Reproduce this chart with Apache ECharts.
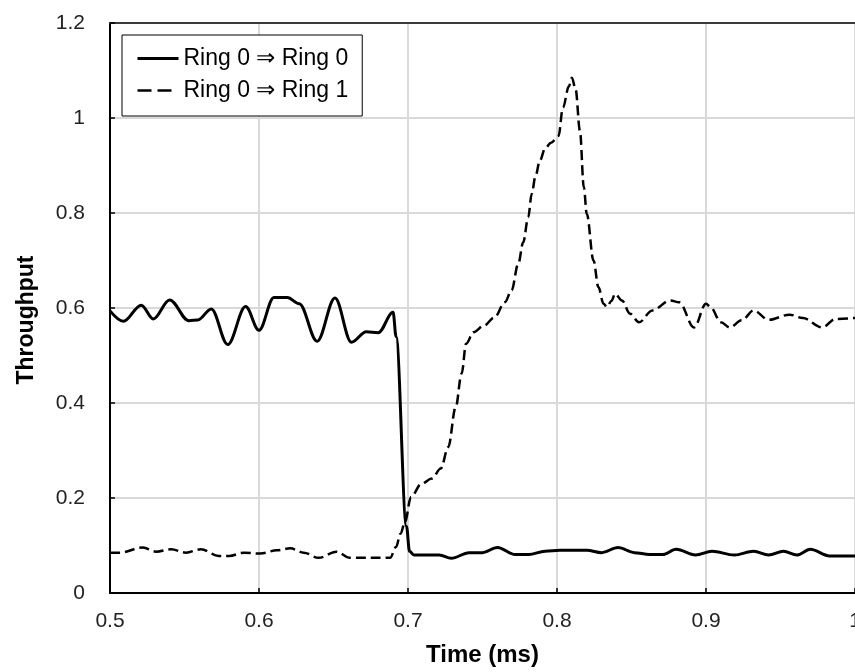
<!DOCTYPE html>
<html>
<head>
<meta charset="utf-8">
<script src="https://cdn.jsdelivr.net/npm/echarts@6/dist/echarts.min.js"></script>
<style>
  html, body { margin: 0; padding: 0; background: #fff; overflow: hidden; }
  #chart { width: 855px; height: 672px; }
</style>
</head>
<body>
<div id="chart"></div>
<script>
// Throughput of two ring transfers over time (ms)
const seriesNames = ['Ring 0 \u21D2 Ring 0', 'Ring 0 \u21D2 Ring 1'];

const timeRing00 = [0.500, 0.509, 0.521, 0.529, 0.540, 0.553, 0.559, 0.568, 0.579, 0.591,
  0.600, 0.610, 0.619, 0.627, 0.639, 0.651, 0.662, 0.672, 0.680, 0.690,
  0.692, 0.699, 0.701, 0.704, 0.721, 0.729, 0.741, 0.750, 0.760,
  0.772, 0.781, 0.792, 0.802, 0.820, 0.830, 0.841, 0.852, 0.862, 0.871,
  0.880, 0.893, 0.904, 0.919, 0.932, 0.942, 0.952, 0.961, 0.970, 0.983, 1.000];
const valRing00 = [0.594, 0.572, 0.606, 0.577, 0.617, 0.573, 0.575, 0.598, 0.523, 0.603,
  0.553, 0.622, 0.622, 0.609, 0.530, 0.621, 0.528, 0.550, 0.548, 0.591,
  0.540, 0.140, 0.088, 0.080, 0.080, 0.073, 0.085, 0.085, 0.096,
  0.081, 0.081, 0.088, 0.090, 0.090, 0.085, 0.096, 0.085, 0.081, 0.081,
  0.092, 0.080, 0.088, 0.080, 0.088, 0.080, 0.088, 0.080, 0.092, 0.078, 0.078];

const timeRing01 = [0.500, 0.507, 0.522, 0.531, 0.541, 0.551, 0.561, 0.573, 0.580, 0.590,
  0.601, 0.612, 0.621, 0.630, 0.640, 0.652, 0.661, 0.688, 0.692, 0.695,
  0.698, 0.702, 0.709, 0.716, 0.722, 0.727, 0.732, 0.736, 0.739, 0.744,
  0.751, 0.758, 0.765, 0.7695, 0.774, 0.7773, 0.7807, 0.783, 0.7856, 0.7885,
  0.792, 0.796, 0.801, 0.804, 0.808, 0.810, 0.8125, 0.8154, 0.818, 0.820,
  0.8245, 0.8278, 0.8312, 0.8335, 0.8365, 0.839, 0.8436, 0.849, 0.855, 0.864,
  0.876, 0.882, 0.892, 0.900, 0.903, 0.910, 0.916, 0.924, 0.932, 0.942,
  0.956, 0.965, 0.978, 0.987, 1.000];
const valRing01 = [0.085, 0.085, 0.096, 0.087, 0.092, 0.085, 0.092, 0.078, 0.078, 0.085,
  0.083, 0.090, 0.094, 0.085, 0.074, 0.087, 0.074, 0.074, 0.097, 0.125,
  0.150, 0.202, 0.230, 0.241, 0.262, 0.307, 0.391, 0.462, 0.525, 0.549,
  0.563, 0.580, 0.612, 0.637, 0.693, 0.738, 0.791, 0.840, 0.878, 0.910,
  0.936, 0.948, 0.962, 1.022, 1.067, 1.085, 1.060, 0.973, 0.854, 0.798,
  0.700, 0.644, 0.609, 0.602, 0.615, 0.630, 0.616, 0.588, 0.570, 0.595,
  0.616, 0.612, 0.559, 0.609, 0.602, 0.570, 0.559, 0.574, 0.595, 0.575,
  0.586, 0.579, 0.559, 0.577, 0.579];

const xTickLabels = ['0.5', '0.6', '0.7', '0.8', '0.9', '1'];
const yTickLabels = ['0', '0.2', '0.4', '0.6', '0.8', '1', '1.2'];

const FONT = 'Liberation Sans, Arial, sans-serif';
const zip = (xs, ys) => xs.map((x, i) => [x, ys[i]]);

const chart = echarts.init(document.getElementById('chart'), null, { renderer: 'canvas' });

chart.setOption({
  animation: false,
  backgroundColor: '#fff',
  grid: { left: 110, right: 0, top: 23, bottom: 79, containLabel: false, outerBoundsMode: 'none' },
  legend: {
    orient: 'vertical',
    left: 122,
    top: 35,
    padding: [12, 14, 14, 14],
    itemWidth: 41,
    itemHeight: 14,
    itemGap: 9,
    borderColor: '#000',
    borderWidth: 1,
    backgroundColor: '#fff',
    textStyle: { fontFamily: FONT, fontSize: 23, color: '#000', lineHeight: 22 },
    data: [
      { name: seriesNames[0], itemStyle: { opacity: 0 }, lineStyle: { type: 'solid', width: 3, color: '#000' } },
      { name: seriesNames[1], itemStyle: { opacity: 0 }, lineStyle: { type: [14, 6, 14, 20], width: 2.5, color: '#000' } }
    ]
  },
  xAxis: [{
    type: 'value',
    min: 0.5, max: 1.0, interval: 0.1,
    name: 'Time (ms)',
    nameLocation: 'middle',
    nameGap: 50,
    nameTextStyle: { fontFamily: FONT, fontSize: 24, fontWeight: 'bold', color: '#000' },
    axisLine: { show: true, onZero: false, lineStyle: { color: '#000', width: 2 } },
    axisTick: { show: true, inside: true, length: 5, lineStyle: { color: '#000', width: 1.5 } },
    axisLabel: {
      fontFamily: FONT, fontSize: 21, color: '#222', margin: 18,
      showMaxLabel: true, hideOverlap: false,
      formatter: v => xTickLabels[Math.round((v - 0.5) * 10)]
    },
    splitLine: { show: true, lineStyle: { color: '#d9d9d9', width: 2 } }
  }, {
    type: 'value', position: 'top',
    min: 0.5, max: 1.0, interval: 0.1,
    axisLine: { show: true, onZero: false, lineStyle: { color: '#3a3a3a', width: 2 } },
    axisTick: { show: false }, axisLabel: { show: false }, splitLine: { show: false }
  }],
  yAxis: {
    type: 'value',
    min: 0, max: 1.2, interval: 0.2,
    name: 'Throughput',
    nameLocation: 'middle',
    nameGap: 72,
    nameTextStyle: { fontFamily: FONT, fontSize: 23, fontWeight: 'bold', color: '#000', padding: [0, 24, 0, 0] },
    axisLine: { show: true, lineStyle: { color: '#000', width: 2 } },
    axisTick: { show: true, inside: true, length: 5, lineStyle: { color: '#000', width: 1.5 } },
    axisLabel: {
      fontFamily: FONT, fontSize: 21, color: '#222', margin: 25,
      formatter: v => yTickLabels[Math.round(v * 5)]
    },
    splitLine: { show: true, lineStyle: { color: '#d9d9d9', width: 2 } }
  },
  series: [
    {
      name: seriesNames[0],
      type: 'line',
      data: zip(timeRing00, valRing00),
      symbol: 'none',
      smooth: 0.35,
      smoothMonotone: 'x',
      lineStyle: { color: '#000', width: 3, type: 'solid' },
      z: 3
    },
    {
      name: seriesNames[1],
      type: 'line',
      data: zip(timeRing01, valRing01),
      symbol: 'none',
      smooth: 0.35,
      smoothMonotone: 'x',
      lineStyle: { color: '#000', width: 2.5, type: [10, 5], cap: 'butt' },
      z: 2
    }
  ]
});
</script>
</body>
</html>
